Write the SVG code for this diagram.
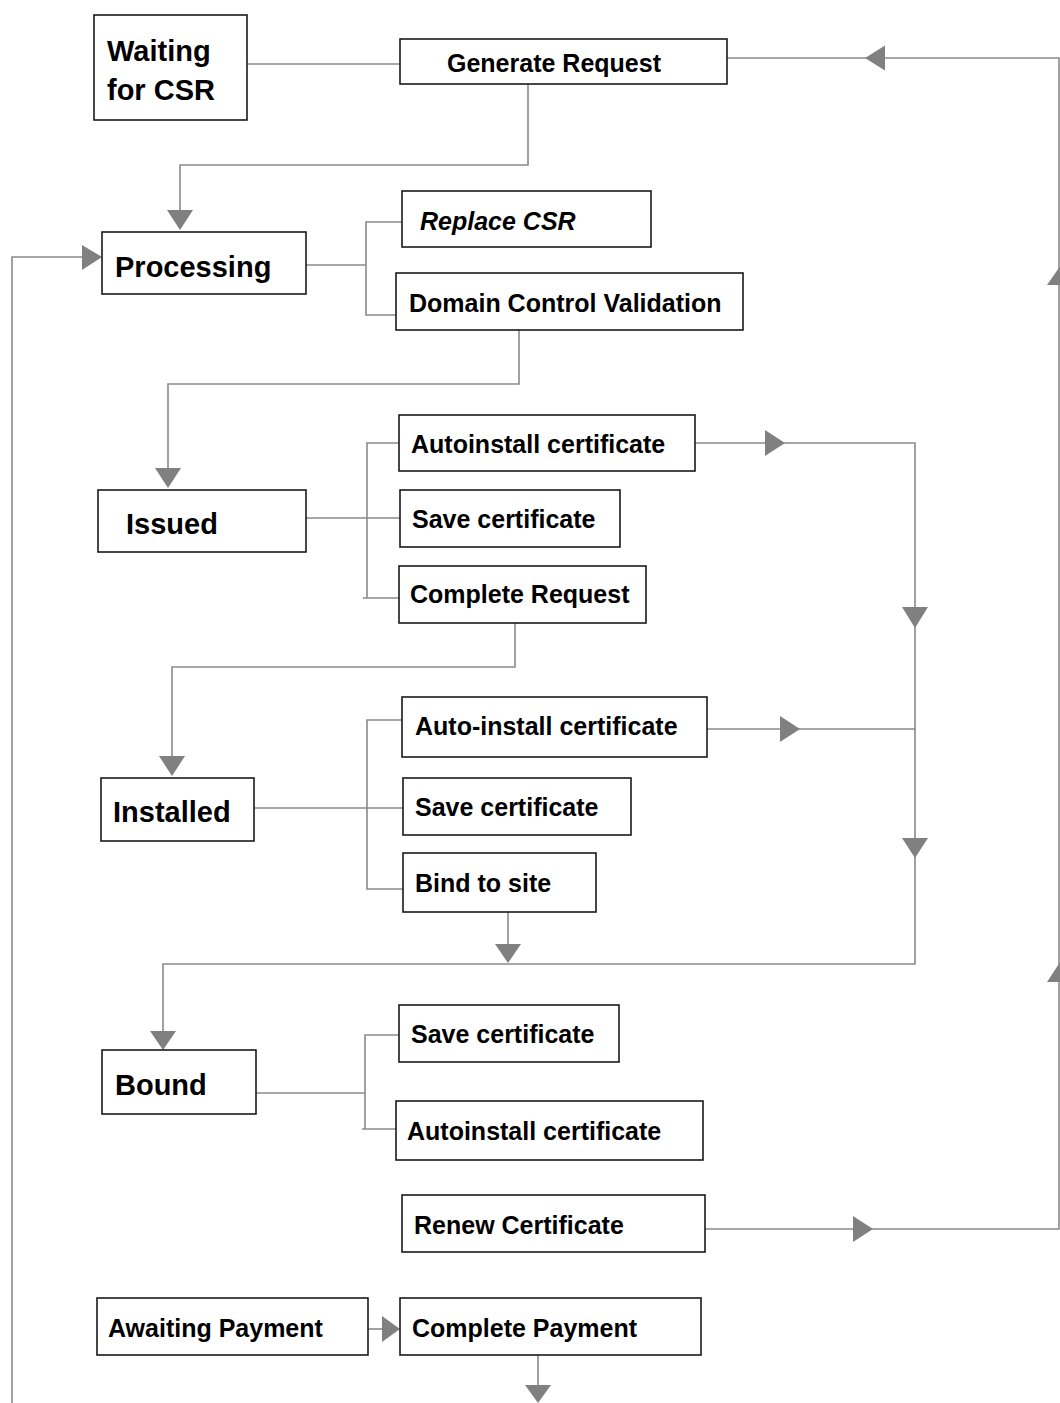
<svg xmlns="http://www.w3.org/2000/svg" width="1060" height="1403" viewBox="0 0 1060 1403">
<style>
.box{fill:#fff;stroke:#1a1a1a;stroke-width:1.6}
.t{font-family:"Liberation Sans",Arial,sans-serif;font-weight:bold;font-size:25px;fill:#000}
.s{font-size:29px}
.i{font-style:italic}
.ln{fill:none;stroke:#8a8a8a;stroke-width:1.6}
.ah{fill:#808080}
</style>
<rect width="1060" height="1403" fill="#fff"/>
<g id="connectors">
<path class="ln" d="M247 64H400"/>
<path class="ln" d="M727 58H1059V1229H705"/>
<path class="ln" d="M528 84V165H180V212"/>
<path class="ln" d="M12 1403V257H84"/>
<path class="ln" d="M306 265H366M402 222H366V315H396"/>
<path class="ln" d="M519 330V384H168V470"/>
<path class="ln" d="M306 518H400M399 443H367V598H363M367 598H399"/>
<path class="ln" d="M515 623V667H172V758"/>
<path class="ln" d="M695 443H915V964H163V1032"/>
<path class="ln" d="M707 729H915"/>
<path class="ln" d="M254 808H403M402 720H367V889H403"/>
<path class="ln" d="M508 912V946"/>
<path class="ln" d="M256 1093H365M399 1035H365V1129H362M365 1129H396"/>
<path class="ln" d="M368 1329H384"/>
<path class="ln" d="M538 1355V1387"/>
<polygon class="ah" points="865,58 885,45.5 885,70.5"/>
<polygon class="ah" points="180,230 167,210 193,210"/>
<polygon class="ah" points="102,257 82,245 82,270"/>
<polygon class="ah" points="168,488 155,468 181,468"/>
<polygon class="ah" points="785,443 765,430 765,456"/>
<polygon class="ah" points="915,628 902,607 928,607"/>
<polygon class="ah" points="800,729 780,716 780,742"/>
<polygon class="ah" points="915,858 902,838 928,838"/>
<polygon class="ah" points="172,776 159,756 185,756"/>
<polygon class="ah" points="508,963 495,944 521,944"/>
<polygon class="ah" points="163,1050 150,1031 176,1031"/>
<polygon class="ah" points="873,1229 853,1216 853,1242"/>
<polygon class="ah" points="400,1329 382,1316 382,1342"/>
<polygon class="ah" points="538,1403 525,1385 551,1385"/>
<polygon class="ah" points="1059.5,267 1047,285 1072,285"/>
<polygon class="ah" points="1059.5,963 1047,982 1072,982"/>
</g>
<g id="waiting-for-csr"><rect class="box" x="94" y="15" width="153" height="105"/><text class="t s" x="107" y="61">Waiting</text><text class="t s" x="107" y="100">for CSR</text></g>
<g id="generate-request"><rect class="box" x="400" y="39" width="327" height="45"/><text class="t" x="447" y="72">Generate Request</text></g>
<g id="processing"><rect class="box" x="102" y="232" width="204" height="62"/><text class="t s" x="115" y="277">Processing</text></g>
<g id="replace-csr"><rect class="box" x="402" y="191" width="249" height="56"/><text class="t i" x="420" y="230">Replace CSR</text></g>
<g id="domain-control-validation"><rect class="box" x="396" y="273" width="347" height="57"/><text class="t" x="409" y="312">Domain Control Validation</text></g>
<g id="issued"><rect class="box" x="98" y="490" width="208" height="62"/><text class="t s" x="126" y="534">Issued</text></g>
<g id="autoinstall-certificate-1"><rect class="box" x="399" y="415" width="296" height="56"/><text class="t" x="411" y="453">Autoinstall certificate</text></g>
<g id="save-certificate-1"><rect class="box" x="400" y="490" width="220" height="57"/><text class="t" x="412" y="528">Save certificate</text></g>
<g id="complete-request"><rect class="box" x="399" y="566" width="247" height="57"/><text class="t" x="410" y="603">Complete Request</text></g>
<g id="installed"><rect class="box" x="101" y="778" width="153" height="63"/><text class="t s" x="113" y="822">Installed</text></g>
<g id="auto-install-certificate"><rect class="box" x="402" y="697" width="305" height="60"/><text class="t" x="415" y="735">Auto-install certificate</text></g>
<g id="save-certificate-2"><rect class="box" x="403" y="778" width="228" height="57"/><text class="t" x="415" y="816">Save certificate</text></g>
<g id="bind-to-site"><rect class="box" x="403" y="853" width="193" height="59"/><text class="t" x="415" y="892">Bind to site</text></g>
<g id="bound"><rect class="box" x="102" y="1050" width="154" height="64"/><text class="t s" x="115" y="1095">Bound</text></g>
<g id="save-certificate-3"><rect class="box" x="399" y="1005" width="220" height="57"/><text class="t" x="411" y="1043">Save certificate</text></g>
<g id="autoinstall-certificate-3"><rect class="box" x="396" y="1101" width="307" height="59"/><text class="t" x="407" y="1140">Autoinstall certificate</text></g>
<g id="renew-certificate"><rect class="box" x="402" y="1195" width="303" height="57"/><text class="t" x="414" y="1234">Renew Certificate</text></g>
<g id="awaiting-payment"><rect class="box" x="97" y="1298" width="271" height="57"/><text class="t" x="108" y="1337">Awaiting Payment</text></g>
<g id="complete-payment"><rect class="box" x="400" y="1298" width="301" height="57"/><text class="t" x="412" y="1337">Complete Payment</text></g>
</svg>
